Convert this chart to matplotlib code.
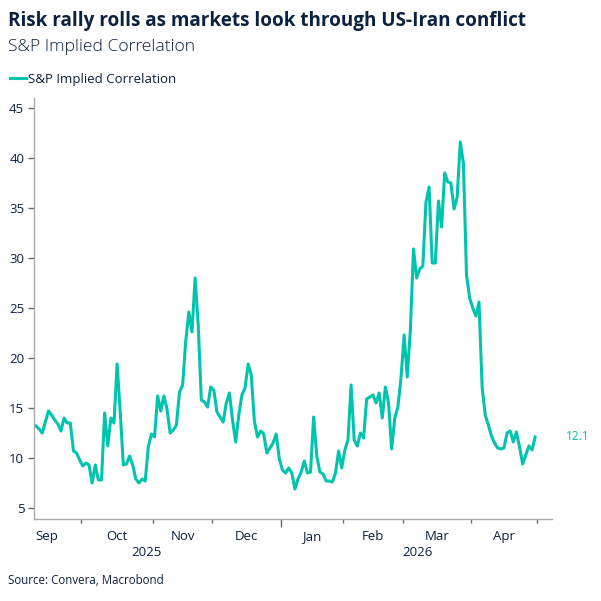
import numpy as np
import pandas as pd
import matplotlib.pyplot as plt
import matplotlib.transforms as mtransforms

plt.rcParams['font.family'] = ['Open Sans', 'DejaVu Sans']

# Daily values (trading days), by month
sep_vals = [13.2, 12.9, 12.5, 13.6, 14.7, 14.3, 13.8, 13.4, 12.7, 14.0, 13.5, 13.5, 10.7, 10.5, 9.8]
oct_vals = [9.2, 9.5, 9.3, 7.5, 9.3, 7.8, 7.8, 14.5, 11.2, 14.0, 13.5, 19.4, 14.6, 9.3, 9.4, 10.2,
            9.3, 7.9, 7.5, 7.9, 7.7, 11.1, 12.4]
nov_vals = [12.1, 16.2, 14.7, 16.2, 14.9, 12.5, 12.8, 13.3, 16.6, 17.3, 21.7, 24.6, 22.6, 28.0,
            23.3, 15.8, 15.6, 15.1, 17.1]
dec_vals = [16.8, 14.6, 14.1, 13.6, 15.5, 16.5, 13.8, 11.6, 14.3, 16.3, 17.0, 19.4, 18.3, 13.7,
            12.1, 12.7, 12.4, 10.5, 11.0, 11.5, 12.4, 9.9]
jan_vals = [8.8, 8.5, 9.0, 8.5, 6.9, 7.9, 8.6, 9.7, 8.5, 8.6, 14.1, 10.2, 8.6, 8.4, 7.7, 7.7,
            7.6, 8.5, 10.7, 9.0]
feb_vals = [10.8, 11.8, 17.3, 11.8, 11.2, 12.5, 12.0, 15.9, 16.1, 16.3, 15.5, 16.5, 14.0, 17.1,
            15.5, 10.9, 14.0, 15.1, 18.0]
mar_vals = [22.3, 18.1, 22.8, 30.9, 28.0, 28.9, 29.2, 35.6, 37.1, 29.5, 29.5, 35.7, 33.1, 38.5,
            37.6, 37.5, 34.9, 36.1, 41.6, 39.5, 28.3, 26.0]
apr_vals = [25.0, 24.2, 25.6, 17.1, 14.3, 13.3, 12.2, 11.5, 11.0, 10.9, 11.0, 12.5, 12.7, 11.6,
            12.6, 11.1, 9.4, 10.3, 11.2, 10.8, 12.1]

holidays = ['2025-09-01', '2025-11-27', '2025-12-25', '2026-01-01', '2026-01-19',
            '2026-02-16', '2026-04-03']
month_starts = ['2025-09-01', '2025-10-01', '2025-11-01', '2025-12-01', '2026-01-01',
                '2026-02-01', '2026-03-01', '2026-04-01', '2026-05-01']
month_labels = ['Sep', 'Oct', 'Nov', 'Dec', 'Jan', 'Feb', 'Mar', 'Apr']
year_labels = ['2025', '2026']

values = sep_vals + oct_vals + nov_vals + dec_vals + jan_vals + feb_vals + mar_vals + apr_vals
dates = pd.bdate_range('2025-09-10', '2026-04-30', freq='C', holidays=holidays)
start = dates[0].strftime('%Y-%m-%d')
pos = np.busday_count(start, [d.strftime('%Y-%m-%d') for d in dates], holidays=holidays)

# month boundaries on a trading-day axis
bounds = np.busday_count(start, month_starts, holidays=holidays)
tick_pos = bounds[1:] - 0.5
label_pos = (bounds[:-1] + bounds[1:] - 1) / 2

teal = '#00c4ad'
navy = '#0b2140'
grey = '#a9a9a9'

fig = plt.figure(figsize=(6.01, 6.01), dpi=100)
ax = fig.add_axes([34 / 601, 1 - 519 / 601, 518 / 601, 421 / 601])

ax.plot(pos, values, color=teal, lw=2.2, solid_joinstyle='round', label='S&P Implied Correlation')
ax.annotate(f'{values[-1]:.1f}', (pos[-1], values[-1]), xytext=(22, 0), textcoords='offset points',
            color=teal, fontsize=8.5, va='center', annotation_clip=False)

ax.set_xlim(-0.64, 165.4)
ax.set_ylim(3.9, 46)
ax.set_yticks(np.arange(5, 46, 5))

for s in ['top', 'right']:
    ax.spines[s].set_visible(False)
for s in ['left', 'bottom']:
    ax.spines[s].set_color(grey)
    ax.spines[s].set_linewidth(1)

ax.tick_params(axis='y', colors='#666666', length=4, width=1, labelsize=9.5, labelcolor=navy, pad=3)
ax.set_xticks(tick_pos)
ax.set_xticklabels([])
ax.tick_params(axis='x', which='major', colors='#666666', length=3, width=1)
# longer tick at the year boundary
jan_idx = month_labels.index('Jan') - 1
ax.xaxis.get_major_ticks()[jan_idx].tick1line.set_markersize(6)

ax.set_xticks(label_pos, minor=True)
ax.set_xticklabels(month_labels, minor=True)
ax.tick_params(axis='x', which='minor', length=0, pad=8, labelsize=9.5, labelcolor=navy)

trans = mtransforms.blended_transform_factory(ax.transData, ax.transAxes)
year_pos = [(bounds[0] + bounds[4] - 1) / 2, (bounds[4] + ax.get_xlim()[1]) / 2]
for x, lab in zip(year_pos, year_labels):
    ax.text(x, -0.08, lab, transform=trans, ha='center', va='center', fontsize=9.5, color=navy)

fig.text(8 / 601, 1 - 21 / 601, 'Risk rally rolls as markets look through US-Iran conflict',
         fontsize=13.6, fontweight='bold', color=navy, va='center')
fig.text(8 / 601, 1 - 47 / 601, 'S&P Implied Correlation', fontsize=12.6, fontweight='light',
         color=navy, va='center')
fig.legend(loc='center left', bbox_to_anchor=(10 / 601, 1 - 79 / 601), frameon=False,
           handlelength=1.2, handletextpad=0.2, borderpad=0, borderaxespad=0,
           fontsize=9.5, labelcolor=navy)
fig.text(8 / 601, 1 - 580 / 601, 'Source: Convera, Macrobond', fontsize=8.3, color=navy, va='center')

fig.savefig('out.png', dpi=100)
